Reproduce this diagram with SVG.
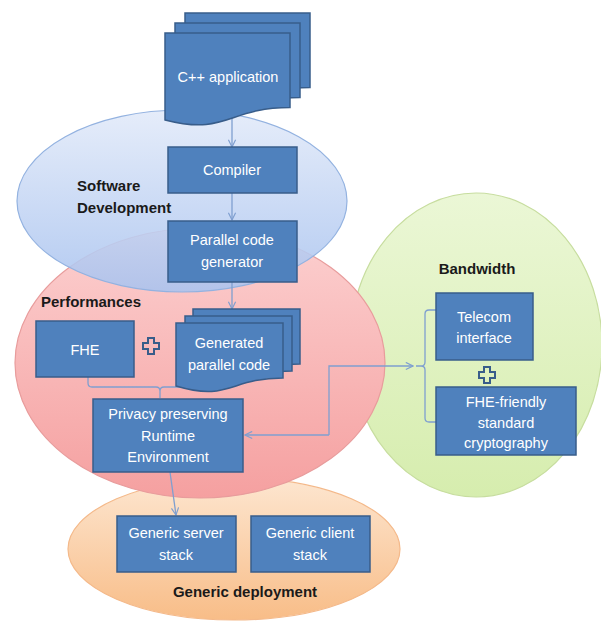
<svg xmlns="http://www.w3.org/2000/svg" width="601" height="623" viewBox="0 0 601 623">
<defs>
<linearGradient id="gBlue" x1="0" y1="0" x2="0" y2="1"><stop offset="0" stop-color="#e2eaf9"/><stop offset="1" stop-color="#a9c3ef"/></linearGradient>
<linearGradient id="gRed" x1="0" y1="0" x2="0" y2="1"><stop offset="0" stop-color="#fcd0d0"/><stop offset="1" stop-color="#f5a0a0"/></linearGradient>
<linearGradient id="gGreen" x1="0" y1="0" x2="0" y2="1"><stop offset="0" stop-color="#ebf7d6"/><stop offset="1" stop-color="#d6edae"/></linearGradient>
<linearGradient id="gOrange" x1="0" y1="0" x2="0" y2="1"><stop offset="0" stop-color="#fde6d0"/><stop offset="1" stop-color="#f8bd88"/></linearGradient>
<marker id="arr" viewBox="0 0 10 10" refX="9" refY="5" markerWidth="9" markerHeight="9" markerUnits="userSpaceOnUse" orient="auto-start-reverse">
<path d="M1,1 L9,5 L1,9" fill="none" stroke="#7f9fd0" stroke-width="1.3"/>
</marker>
<path id="plus" d="M-3,-8 H3 V-3 H8 V3 H3 V8 H-3 V3 H-8 V-3 H-3 Z"/>
</defs>
<style>
.box{fill:#4f81bd;stroke:#385d8a;stroke-width:1.5}
.t{font-family:"Liberation Sans",Arial,sans-serif;font-size:14.5px;fill:#ffffff;text-anchor:middle}
.lb{font-family:"Liberation Sans",Arial,sans-serif;font-size:15px;font-weight:bold;fill:#1a1a1a}
.c{fill:none;stroke:#7f9fd0;stroke-width:1.3}
.pl{fill:none;stroke:#385d8a;stroke-width:2}
</style>
<rect width="601" height="623" fill="#ffffff"/>
<g id="areas">
<ellipse id="bandwidth-area" cx="476" cy="345" rx="126" ry="152" fill="url(#gGreen)" stroke="#c7dd9f" stroke-width="1.2"/>
<ellipse id="deployment-area" cx="234" cy="549" rx="166" ry="71" fill="url(#gOrange)" stroke="#f4b98a" stroke-width="1.2"/>
<ellipse id="performances-area" cx="200" cy="363" rx="185" ry="135" fill="url(#gRed)" stroke="#e89c9c" stroke-width="1.2"/>
<ellipse id="software-area" cx="182" cy="201" rx="165" ry="91" fill="url(#gBlue)" fill-opacity="0.88" stroke="#93b2e0" stroke-width="1.2"/>
</g>
<g id="labels">
<text class="lb" x="77" y="191">Software</text>
<text class="lb" x="77" y="213">Development</text>
<text class="lb" x="41" y="307">Performances</text>
<text class="lb" x="477" y="274" text-anchor="middle">Bandwidth</text>
<text class="lb" x="245" y="597" text-anchor="middle">Generic deployment</text>
</g>
<g id="connectors">
<line class="c" x1="232" y1="118" x2="232" y2="147" marker-end="url(#arr)"/>
<line class="c" x1="232" y1="193" x2="232" y2="220" marker-end="url(#arr)"/>
<line class="c" x1="232" y1="282" x2="232" y2="309" marker-end="url(#arr)"/>
<path class="c" d="M88,377 V383 Q88,387 92,387 H156 Q160,387 160,391 V398 M160,391 Q160,387 164,387 H226 Q230,387 230,383"/>
<path class="c" d="M329,435 H245" marker-end="url(#arr)"/>
<path class="c" d="M329,435 V366 H413" marker-end="url(#arr)"/>
<path class="c" d="M436,310 H429 Q425,310 425,314 V362 Q425,366 421,366 H416 M421,366 Q425,366 425,370 V418 Q425,422 429,422 H436"/>
<line class="c" x1="170" y1="472" x2="176" y2="515" marker-end="url(#arr)"/>
</g>
<g id="cpp-application">
<path class="box" d="M185,13 H310 V87.6 C247.5,87.6 247.5,116 185,99.9 Z"/>
<path class="box" d="M175,23 H300 V97.6 C237.5,97.6 237.5,126 175,109.9 Z"/>
<path class="box" d="M165,33 H290 V107.6 C227.5,107.6 227.5,136 165,119.9 Z"/>
<text class="t" x="228" y="82">C++ application</text>
</g>
<g id="compiler">
<rect class="box" x="168" y="147" width="129" height="46"/>
<text class="t" x="232" y="175">Compiler</text>
</g>
<g id="parallel-code-generator">
<rect class="box" x="168" y="221" width="129" height="61"/>
<text class="t" x="232" y="245">Parallel code</text>
<text class="t" x="232" y="267">generator</text>
</g>
<g id="fhe">
<rect class="box" x="36" y="321" width="98" height="56"/>
<text class="t" x="85" y="355">FHE</text>
</g>
<g id="plus-1"><use href="#plus" x="151" y="346" class="pl"/></g>
<g id="generated-parallel-code">
<path class="box" d="M193,309 H300 V364 C246.5,364 246.5,394 193,372.5 Z"/>
<path class="box" d="M185,316 H292 V371 C238.5,371 238.5,401 185,379.5 Z"/>
<path class="box" d="M176,323 H283 V378 C229.5,378 229.5,402 176,386 Z"/>
<text class="t" x="229" y="348">Generated</text>
<text class="t" x="229" y="370">parallel code</text>
</g>
<g id="privacy-runtime">
<rect class="box" x="93" y="399" width="150" height="73"/>
<text class="t" x="168" y="419">Privacy preserving</text>
<text class="t" x="168" y="441">Runtime</text>
<text class="t" x="168" y="462">Environment</text>
</g>
<g id="telecom-interface">
<rect class="box" x="436" y="293" width="97" height="67"/>
<text class="t" x="484" y="322">Telecom</text>
<text class="t" x="484" y="343">interface</text>
</g>
<g id="plus-2"><use href="#plus" x="487" y="375" class="pl"/></g>
<g id="fhe-friendly">
<rect class="box" x="436" y="387" width="140" height="68"/>
<text class="t" x="506" y="407">FHE-friendly</text>
<text class="t" x="506" y="428">standard</text>
<text class="t" x="506" y="448">cryptography</text>
</g>
<g id="generic-server-stack">
<rect class="box" x="117" y="516" width="119" height="56"/>
<text class="t" x="176" y="538">Generic server</text>
<text class="t" x="176" y="560">stack</text>
</g>
<g id="generic-client-stack">
<rect class="box" x="251" y="516" width="119" height="56"/>
<text class="t" x="310" y="538">Generic client</text>
<text class="t" x="310" y="560">stack</text>
</g>
</svg>
